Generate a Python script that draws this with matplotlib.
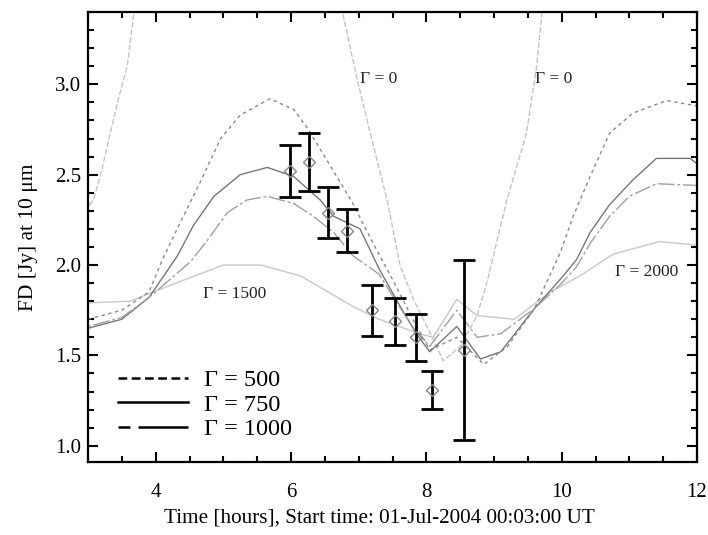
import numpy as np
import matplotlib
matplotlib.use('Agg')
import matplotlib.pyplot as plt
from matplotlib.lines import Line2D
from matplotlib.ticker import MultipleLocator, FormatStrFormatter

plt.rcParams['font.family'] = ['Liberation Serif', 'DejaVu Serif']

# measured points (diamonds with error bars)
obs_t = [5.99, 6.26, 6.55, 6.83, 7.20, 7.54, 7.84, 8.08, 8.55]
obs_fd = [2.52, 2.57, 2.29, 2.19, 1.75, 1.69, 1.60, 1.31, 1.53]
obs_err = [0.145, 0.16, 0.14, 0.12, 0.14, 0.13, 0.13, 0.105, 0.50]

# model curves, thermal inertia Gamma
t_500 = [3.0, 3.5, 3.9, 4.1, 4.37, 4.66, 4.96, 5.25, 5.69, 6.04, 6.24, 6.53, 6.9, 7.2,
         7.5, 7.8, 8.05, 8.45, 8.85, 9.2, 9.6, 9.98, 10.17, 10.42, 10.71, 11.05, 11.55, 12.0]
fd_500 = [1.70, 1.75, 1.85, 2.03, 2.24, 2.46, 2.70, 2.83, 2.92, 2.86, 2.76, 2.58, 2.35, 2.13,
          1.92, 1.70, 1.53, 1.60, 1.45, 1.55, 1.76, 2.07, 2.27, 2.49, 2.73, 2.84, 2.91, 2.88]

t_750 = [3.0, 3.5, 3.9, 4.32, 4.56, 4.86, 5.25, 5.65, 6.04, 6.43, 6.63, 7.02, 7.3, 7.6,
         7.85, 8.05, 8.45, 8.8, 9.1, 9.6, 10.0, 10.22, 10.42, 10.7, 11.05, 11.4, 11.9, 12.0]
fd_750 = [1.65, 1.70, 1.82, 2.05, 2.22, 2.38, 2.50, 2.54, 2.49, 2.36, 2.27, 2.20, 1.98, 1.78,
          1.62, 1.52, 1.66, 1.48, 1.52, 1.76, 1.93, 2.03, 2.18, 2.33, 2.47, 2.59, 2.59, 2.56]

t_1000 = [3.0, 3.5, 3.9, 4.52, 4.77, 5.06, 5.35, 5.65, 6.04, 6.33, 6.63, 6.92, 7.3, 7.6,
          7.85, 8.05, 8.45, 8.75, 9.1, 9.6, 10.0, 10.22, 10.42, 10.71, 11.0, 11.4, 12.0]
fd_1000 = [1.66, 1.71, 1.82, 2.02, 2.14, 2.29, 2.36, 2.38, 2.34, 2.27, 2.18, 2.05, 1.95, 1.77,
           1.63, 1.55, 1.75, 1.60, 1.62, 1.76, 1.90, 1.99, 2.12, 2.27, 2.38, 2.45, 2.44]

t_1500 = [3.0, 3.63, 3.82, 4.37, 5.0, 5.55, 6.14, 6.92, 7.3, 7.6, 7.9, 8.1, 8.45, 8.75,
          9.3, 9.83, 10.27, 10.76, 11.45, 12.0]
fd_1500 = [1.79, 1.80, 1.83, 1.91, 2.00, 2.00, 1.94, 1.77, 1.70, 1.66, 1.62, 1.60, 1.81, 1.72,
           1.70, 1.85, 1.94, 2.06, 2.13, 2.11]

t_0 = [2.95, 3.08, 3.18, 3.33, 3.45, 3.58, 3.68, 3.75, np.nan, 6.7, 6.76, 6.97, 7.17, 7.42,
       7.61, 7.81, 8.06, 8.25, 8.5, 8.75, 8.9, 9.19, 9.48, 9.63, 9.71, 9.8]
fd_0 = [2.30, 2.36, 2.49, 2.73, 2.92, 3.10, 3.40, 3.55, np.nan, 3.55, 3.40, 3.04, 2.73, 2.36,
        2.00, 1.81, 1.62, 1.47, 1.55, 1.72, 1.91, 2.36, 2.73, 3.10, 3.40, 3.60]

fig = plt.figure(figsize=(7.08, 5.35), dpi=100)
ax = fig.add_axes([0.1243, 0.1364, 0.8602, 0.8412])

ax.plot(t_0, fd_0, color='#c4c4c4', lw=1.0, ls=(0, (4, 1.5)))
ax.plot(t_1500, fd_1500, color='#c8c8c8', lw=1.0)
ax.plot(t_500, fd_500, color='#8a8a8a', lw=1.0, ls=(0, (2.5, 2.5)))
ax.plot(t_750, fd_750, color='#777777', lw=1.0)
ax.plot(t_1000, fd_1000, color='#a0a0a0', lw=1.0, ls=(0, (2, 2, 12, 2)))

ax.errorbar(obs_t, obs_fd, yerr=obs_err, fmt='none', ecolor='black', elinewidth=2.0,
            capsize=8, capthick=2.0)
ax.plot(obs_t, obs_fd, ls='none', marker='D', ms=6, mfc='none', mec='#888888', mew=1.0)

tkw = dict(fontsize=12.5, color='#222222')
ax.text(7.02, 3.03, 'Γ = 0', va='center', ha='left', **tkw)
ax.text(9.60, 3.03, 'Γ = 0', va='center', ha='left', **tkw)
ax.text(4.70, 1.84, 'Γ = 1500', va='center', ha='left', **tkw)
ax.text(10.79, 1.96, 'Γ = 2000', va='center', ha='left', **tkw)

ax.set_xlim(3, 12)
ax.set_ylim(0.91, 3.40)
ax.xaxis.set_major_locator(MultipleLocator(2))
ax.xaxis.set_minor_locator(MultipleLocator(0.5))
ax.yaxis.set_major_locator(MultipleLocator(0.5))
ax.yaxis.set_minor_locator(MultipleLocator(0.1))
ax.set_xticks([4, 6, 8, 10, 12])
ax.tick_params(which='both', direction='in', top=True, right=True, width=1.5)
ax.tick_params(which='major', length=7.5, labelsize=15)
ax.tick_params(which='minor', length=4)
ax.tick_params(axis='x', which='major', pad=15)
ax.tick_params(axis='y', which='major', pad=5)
ax.yaxis.set_major_formatter(FormatStrFormatter('%.1f'))
for s in ax.spines.values():
    s.set_linewidth(1.6)

ax.set_xlabel('Time [hours], Start time: 01-Jul-2004 00:03:00 UT', fontsize=15.2)
ax.xaxis.set_label_coords(0.479, -0.103)
ax.set_ylabel('FD [Jy] at 10 μm', fontsize=15.5, labelpad=12)

handles = [Line2D([], [], color='black', lw=1.8, ls=(0, (3.5, 1.8))),
           Line2D([], [], color='black', lw=1.8, ls='-'),
           Line2D([], [], color='black', lw=1.8, ls=(0, (4.8, 3.2, 30, 0)))]
ax.legend(handles, ['Γ = 500', 'Γ = 750', 'Γ = 1000'], loc='lower left',
          bbox_to_anchor=(0.013, 0.0), frameon=False, fontsize=17.5, handlelength=2.9,
          handletextpad=0.65, labelspacing=0.1)

fig.savefig('out.png', dpi=100)
